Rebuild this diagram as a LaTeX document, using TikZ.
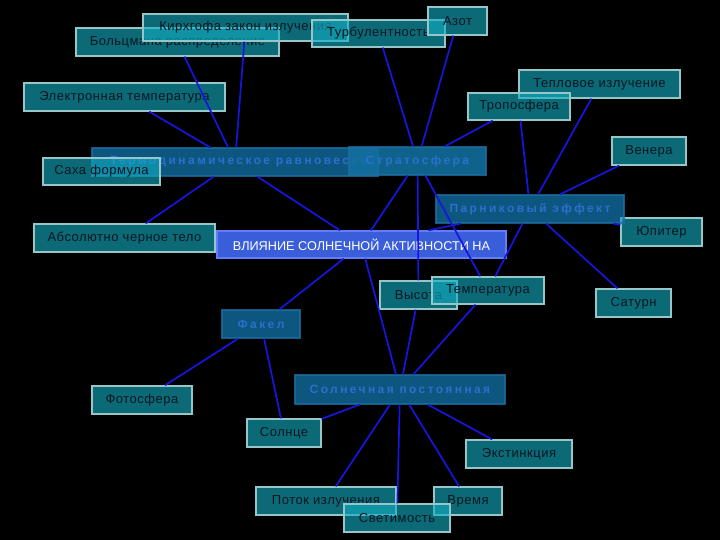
\documentclass[tikz,border=0pt]{standalone}
\usepackage{fontspec}
\setmainfont{Liberation Sans}
\newfontfamily\tealfont[LetterSpace=4]{Liberation Sans}
\newfontfamily\bluefont[LetterSpace=20]{Liberation Sans}
\definecolor{tealfill}{RGB}{18,172,192}
\definecolor{tealborder}{RGB}{150,198,200}
\definecolor{tealtext}{RGB}{8,22,36}
\definecolor{bluefill}{RGB}{20,140,205}
\definecolor{stratofill}{RGB}{18,112,160}
\definecolor{blueborder}{RGB}{30,110,160}
\definecolor{bluetext}{RGB}{42,112,205}
\definecolor{centralfill}{RGB}{58,94,218}
\definecolor{centralborder}{RGB}{100,125,255}
\definecolor{linkblue}{RGB}{22,22,225}
\tikzset{
  box/.style={rectangle, inner sep=0pt, line width=1.2pt, minimum height=28pt},
  tealbox/.style={box, draw=tealborder, fill=tealfill, fill opacity=0.62, draw opacity=1, text opacity=1,
    text=tealtext, font=\tealfont\fontsize{13}{15}\selectfont},
  bluebox/.style={box, draw=blueborder, fill=bluefill, fill opacity=0.62, draw opacity=0.8, text opacity=1,
    text=bluetext, font=\bluefont\bfseries\fontsize{12}{14}\selectfont},
  centralbox/.style={box, draw=centralborder, fill=centralfill, text=white,
    font=\fontsize{12.7}{14}\selectfont},
  link/.style={draw=linkblue, line width=1.7pt}
}
\begin{document}
\begin{tikzpicture}[x=1pt,y=-1pt]
\fill[black] (0,0) rectangle (720,540);
\useasboundingbox (0,0) rectangle (720,540);

% teal nodes
\node[tealbox, minimum width=203pt] (boltz) at (177.5,42) {Больцмана распределение};
\node[tealbox, minimum width=205pt, minimum height=27pt] (kirch) at (245.5,27.5) {Кирхгофа закон излучения};
\node[tealbox, minimum width=133pt, minimum height=27pt] (turb) at (378.5,33.5) {Турбулентность};
\node[tealbox, minimum width=59pt] (azot) at (457.5,21) {Азот};
\node[tealbox, minimum width=201pt] (eltemp) at (124.5,97) {Электронная температура};
\node[tealbox, minimum width=161pt] (teplo) at (599.5,84) {Тепловое излучение};
\node[tealbox, minimum width=102pt, minimum height=27pt] (tropo) at (519,106.5) {Тропосфера};
\node[tealbox, minimum width=74pt] (venera) at (649,151) {Венера};
\node[tealbox, minimum width=81pt] (jupiter) at (661.5,232) {Юпитер};
\node[tealbox, minimum width=181pt] (abs) at (124.5,238) {Абсолютно черное тело};
\node[tealbox, minimum width=75pt] (saturn) at (633.5,303) {Сатурн};
\node[tealbox, minimum width=100pt] (foto) at (142,400) {Фотосфера};
\node[tealbox, minimum width=74pt] (sun) at (284,433) {Солнце};
\node[tealbox, minimum width=106pt] (ext) at (519,454) {Экстинкция};
\node[tealbox, minimum width=140pt] (potok) at (326,501) {Поток излучения};
\node[tealbox, minimum width=68pt] (vremya) at (468,501) {Время};
\node[tealbox, minimum width=106pt] (svet) at (397,518) {Светимость};

% blue-text nodes
\node[bluebox, minimum width=286pt] (termo) at (235,162) {\hspace{8pt}Термодинамическое равновесие};
\node[tealbox, minimum width=117pt, minimum height=27pt] (saha) at (101.5,171.5) {Саха формула};
\node[bluebox, fill=stratofill, fill opacity=0.88, minimum width=137pt] (strato) at (417.5,161) {Стратосфера};
\node[bluebox, minimum width=188pt] (parnik) at (530,209) {Парниковый эффект};
\node[bluebox, minimum width=78pt] (fakel) at (261,324) {Факел};
\node[bluebox, minimum width=210pt, minimum height=29pt] (solpost) at (400,389.5) {Солнечная постоянная};

% central
\node[centralbox, minimum width=289pt, minimum height=27pt] (central) at (361.5,244.5) {ВЛИЯНИЕ СОЛНЕЧНОЙ АКТИВНОСТИ НА};

\node[tealbox, minimum width=77pt] (vysota) at (418.5,295) {Высота};
\node[tealbox, minimum width=112pt, minimum height=27pt] (temper) at (488,290.5) {Температура};

% links
\foreach \a in {boltz,kirch,eltemp,abs,central} \draw[link] (termo) -- (\a);
\foreach \a in {turb,azot,tropo,central,vysota,temper} \draw[link] (strato) -- (\a);
\foreach \a in {teplo,tropo,venera,jupiter,saturn,temper,central} \draw[link] (parnik) -- (\a);
\draw[link] (central) -- (fakel);
\draw[link] (central) -- (solpost);
\foreach \a in {vysota,temper,sun,potok,svet,vremya,ext} \draw[link] (solpost) -- (\a);
\draw[link] (fakel) -- (foto);
\draw[link] (fakel) -- (sun);
\end{tikzpicture}
\end{document}
